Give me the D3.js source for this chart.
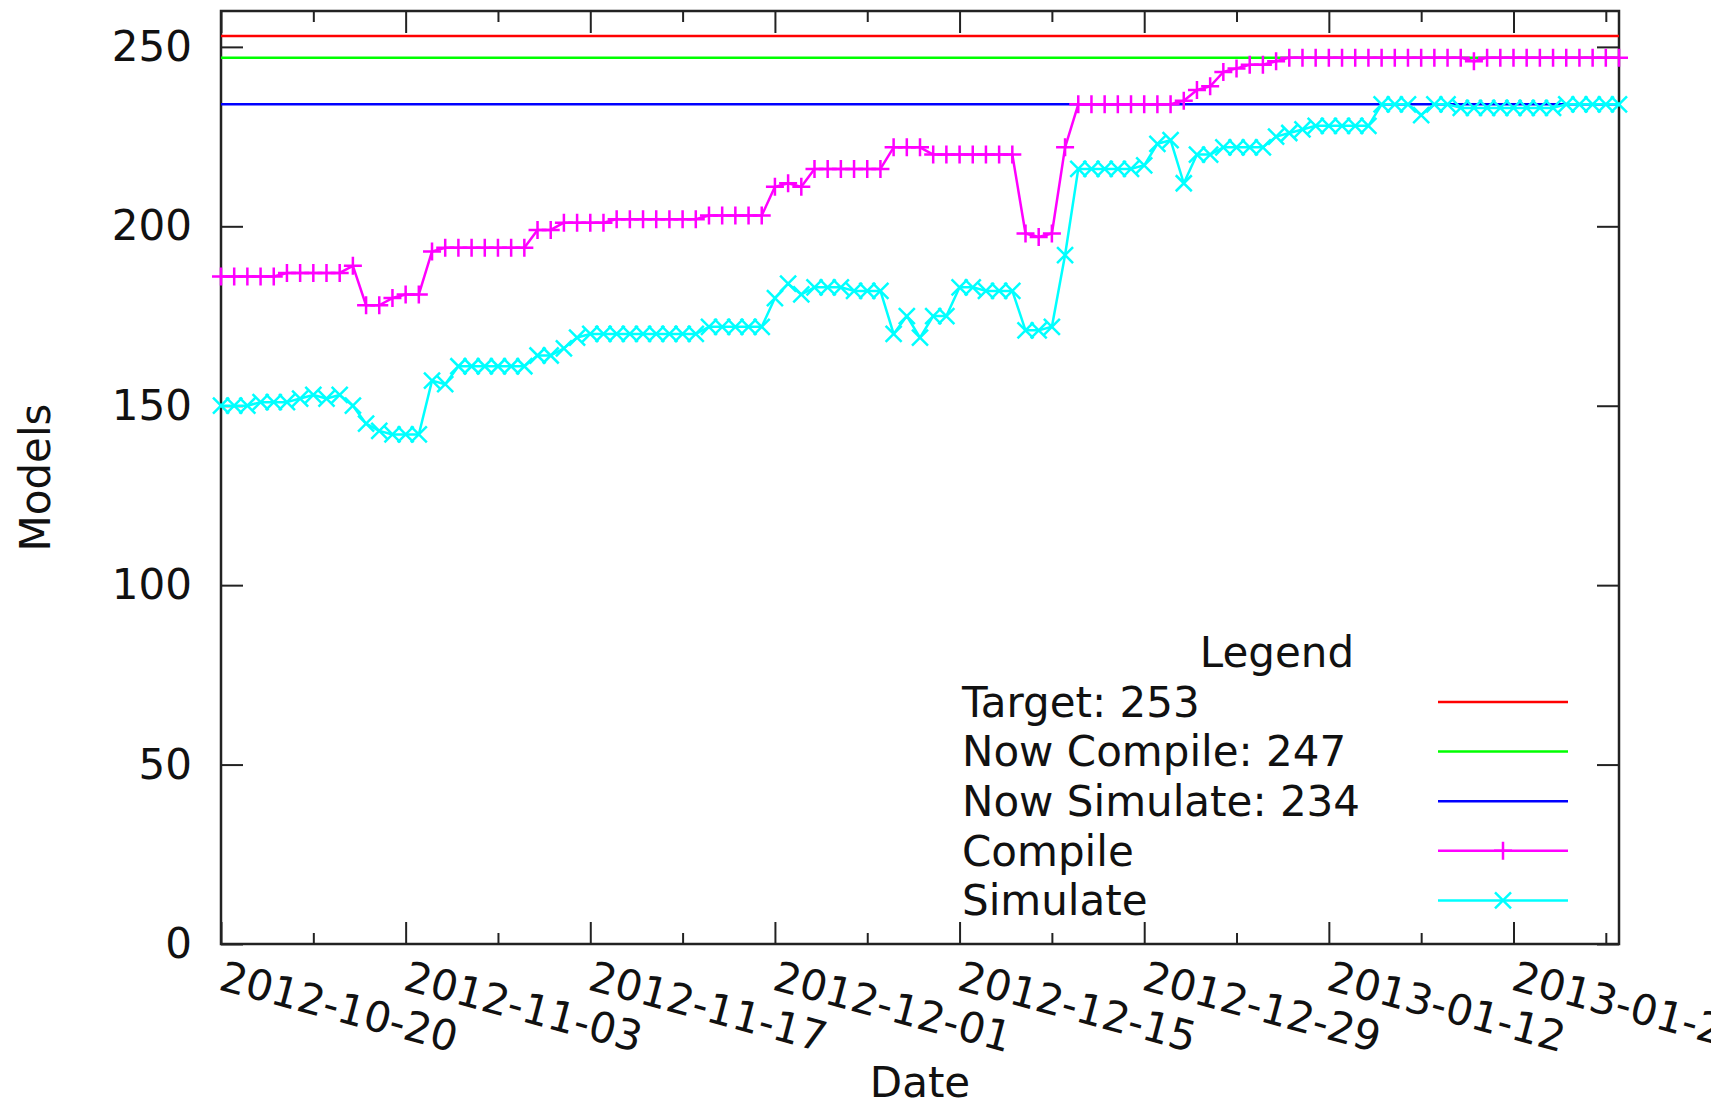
<!DOCTYPE html>
<html>
<head>
<meta charset="utf-8">
<script src="https://cdn.jsdelivr.net/npm/d3@7"></script>
<style>
  html, body { margin: 0; padding: 0; background: #fff; overflow: hidden; }
  text { font-family: "DejaVu Sans", sans-serif; fill: #111; }
</style>
</head>
<body>
<svg id="chart" width="1711" height="1108"></svg>
<script>
// Daily model counts, one value per day starting at startDate
const startDate = "2012-10-20";

const compileCounts = [
  186,186,186,186,186,187,187,187,187,187,
  189,178,178,180,181,181,193,194,194,194,
  194,194,194,194,199,199,201,201,201,201,
  202,202,202,202,202,202,202,203,203,203,
  203,203,211,212,211,216,216,216,216,216,
  216,222,222,222,220,220,220,220,220,220,
  220,198,197,198,222,234,234,234,234,234,
  234,234,234,235,238,239,243,244,245,245,
  246,247,247,247,247,247,247,247,247,247,
  247,247,247,247,247,246,247,247,247,247,
  247,247,247,247,247,247,247
];

const simulateCounts = [
  150,150,150,151,151,151,152,153,152,153,
  150,145,143,142,142,142,157,156,161,161,
  161,161,161,161,164,164,166,169,170,170,
  170,170,170,170,170,170,170,172,172,172,
  172,172,180,184,181,183,183,183,182,182,
  182,170,175,169,175,175,183,183,182,182,
  182,171,171,172,192,216,216,216,216,216,
  217,223,224,212,220,220,222,222,222,222,
  225,226,227,228,228,228,228,228,234,234,
  234,231,234,234,233,233,233,233,233,233,
  233,233,234,234,234,234,234
];

// Constant reference levels
const targetLevel = 253;
const nowCompileLevel = 247;
const nowSimulateLevel = 234;

const yTickValues = [0, 50, 100, 150, 200, 250];
const majorTickDays = 14;   // labelled date ticks
const minorTickDays = 7;    // unlabelled ticks in between

const refLabels = ["Target: ", "Now Compile: ", "Now Simulate: "];
const seriesLabels = ["Compile", "Simulate"];
const colors = {
  target: "#ff0000", nowCompile: "#00ff00", nowSimulate: "#0000ff",
  compile: "#ff00ff", simulate: "#00ffff"
};

// ---------------------------------------------------------------
const parse = d3.utcParse("%Y-%m-%d");
const fmt = d3.utcFormat("%Y-%m-%d");
const t0 = parse(startDate);
const dates = compileCounts.map((_, i) => d3.utcDay.offset(t0, i));
const tEnd = dates[dates.length - 1];

const plot = { left: 221, right: 1619, top: 11, bottom: 944 };
const FONT = 42;
const LW = 2.5;

const svg = d3.select("#chart");

const x = d3.scaleUtc().domain([t0, tEnd]).range([plot.left, plot.right]);
const y = d3.scaleLinear().domain([0, 260]).range([plot.bottom, plot.top]);

// plot border
svg.append("rect")
  .attr("x", plot.left).attr("y", plot.top)
  .attr("width", plot.right - plot.left).attr("height", plot.bottom - plot.top)
  .attr("fill", "none").attr("stroke", "#222").attr("stroke-width", 2.5);

// tick positions: every 14 days labelled, 7-day ticks between
const majorTicks = d3.range(0, dates.length, majorTickDays).map(i => dates[i]);
const minorTicks = d3.range(minorTickDays, dates.length, majorTickDays).map(i => dates[i]);

function styleAxis(g) {
  g.select(".domain").remove();
  g.selectAll(".tick line").attr("stroke", "#222").attr("stroke-width", 2);
}

// x ticks, drawn inward and mirrored on top
svg.append("g").attr("transform", `translate(0,${plot.bottom})`)
  .call(d3.axisBottom(x).tickValues(majorTicks).tickSize(-22).tickFormat(""))
  .call(styleAxis);
svg.append("g").attr("transform", `translate(0,${plot.bottom})`)
  .call(d3.axisBottom(x).tickValues(minorTicks).tickSize(-11).tickFormat(""))
  .call(styleAxis);
svg.append("g").attr("transform", `translate(0,${plot.top})`)
  .call(d3.axisTop(x).tickValues(majorTicks).tickSize(-22).tickFormat(""))
  .call(styleAxis);
svg.append("g").attr("transform", `translate(0,${plot.top})`)
  .call(d3.axisTop(x).tickValues(minorTicks).tickSize(-11).tickFormat(""))
  .call(styleAxis);

// rotated date labels starting at each major tick
svg.append("g").selectAll("text")
  .data(majorTicks)
  .join("text")
  .attr("transform", d => `translate(${x(d)},${plot.bottom + 31}) rotate(15)`)
  .attr("dy", "0.35em")
  .attr("font-size", FONT)
  .attr("fill", "#222")
  .text(d => fmt(d));

// y ticks with labels on the left, mirrored ticks on the right
svg.append("g").attr("transform", `translate(${plot.left},0)`)
  .call(d3.axisLeft(y).tickValues(yTickValues).tickSize(-22).tickPadding(29))
  .call(styleAxis)
  .call(g => g.selectAll(".tick text")
    .attr("font-size", FONT).attr("font-family", "DejaVu Sans").attr("fill", "#111"));
svg.append("g").attr("transform", `translate(${plot.right},0)`)
  .call(d3.axisRight(y).tickValues(yTickValues).tickSize(-22).tickFormat(""))
  .call(styleAxis);

// axis titles
svg.append("text")
  .attr("x", (plot.left + plot.right) / 2).attr("y", 1082)
  .attr("dy", "0.35em").attr("text-anchor", "middle")
  .attr("font-size", FONT).text("Date");
svg.append("text")
  .attr("transform", `translate(35,${(plot.top + plot.bottom) / 2}) rotate(-90)`)
  .attr("dy", "0.35em").attr("text-anchor", "middle")
  .attr("font-size", FONT).text("Models");

// horizontal reference levels
const levelLine = d3.line().x(d => x(d[0])).y(d => y(d[1]));
const levels = [
  { v: targetLevel, c: colors.target },
  { v: nowCompileLevel, c: colors.nowCompile },
  { v: nowSimulateLevel, c: colors.nowSimulate }
];
levels.forEach(l => {
  svg.append("path")
    .attr("d", levelLine([[t0, l.v], [tEnd, l.v]]))
    .attr("fill", "none").attr("stroke", l.c).attr("stroke-width", LW);
});

// markers
const plusPath = "M-9,0H9M0,-9V9";
const crossPath = "M-8,-8L8,8M-8,8L8,-8";

function drawSeries(values, color, marker) {
  const pts = values.map((v, i) => ({ date: dates[i], v }));
  svg.append("path")
    .datum(pts)
    .attr("d", d3.line().x(d => x(d.date)).y(d => y(d.v)))
    .attr("fill", "none").attr("stroke", color).attr("stroke-width", LW)
    .attr("stroke-linejoin", "round");
  svg.append("g").selectAll("path")
    .data(pts)
    .join("path")
    .attr("transform", d => `translate(${x(d.date)},${y(d.v)})`)
    .attr("d", marker)
    .attr("fill", "none").attr("stroke", color).attr("stroke-width", LW);
}
drawSeries(compileCounts, colors.compile, plusPath);
drawSeries(simulateCounts, colors.simulate, crossPath);

// legend
const legend = { textX: 962, lineX0: 1438, lineX1: 1568, firstRow: 702, rowStep: 49.6 };
svg.append("text")
  .attr("x", 1277).attr("y", 652).attr("dy", "0.35em")
  .attr("text-anchor", "middle").attr("font-size", FONT).text("Legend");

const legendRows = [
  { label: refLabels[0] + targetLevel, c: colors.target, m: null },
  { label: refLabels[1] + nowCompileLevel, c: colors.nowCompile, m: null },
  { label: refLabels[2] + nowSimulateLevel, c: colors.nowSimulate, m: null },
  { label: seriesLabels[0], c: colors.compile, m: plusPath },
  { label: seriesLabels[1], c: colors.simulate, m: crossPath }
];
legendRows.forEach((r, i) => {
  const yy = legend.firstRow + i * legend.rowStep;
  svg.append("text")
    .attr("x", legend.textX).attr("y", yy).attr("dy", "0.35em")
    .attr("font-size", FONT).text(r.label);
  svg.append("line")
    .attr("x1", legend.lineX0).attr("x2", legend.lineX1)
    .attr("y1", yy).attr("y2", yy)
    .attr("stroke", r.c).attr("stroke-width", LW);
  if (r.m) {
    svg.append("path")
      .attr("transform", `translate(${(legend.lineX0 + legend.lineX1) / 2},${yy})`)
      .attr("d", r.m).attr("fill", "none").attr("stroke", r.c).attr("stroke-width", LW);
  }
});
</script>
</body>
</html>
